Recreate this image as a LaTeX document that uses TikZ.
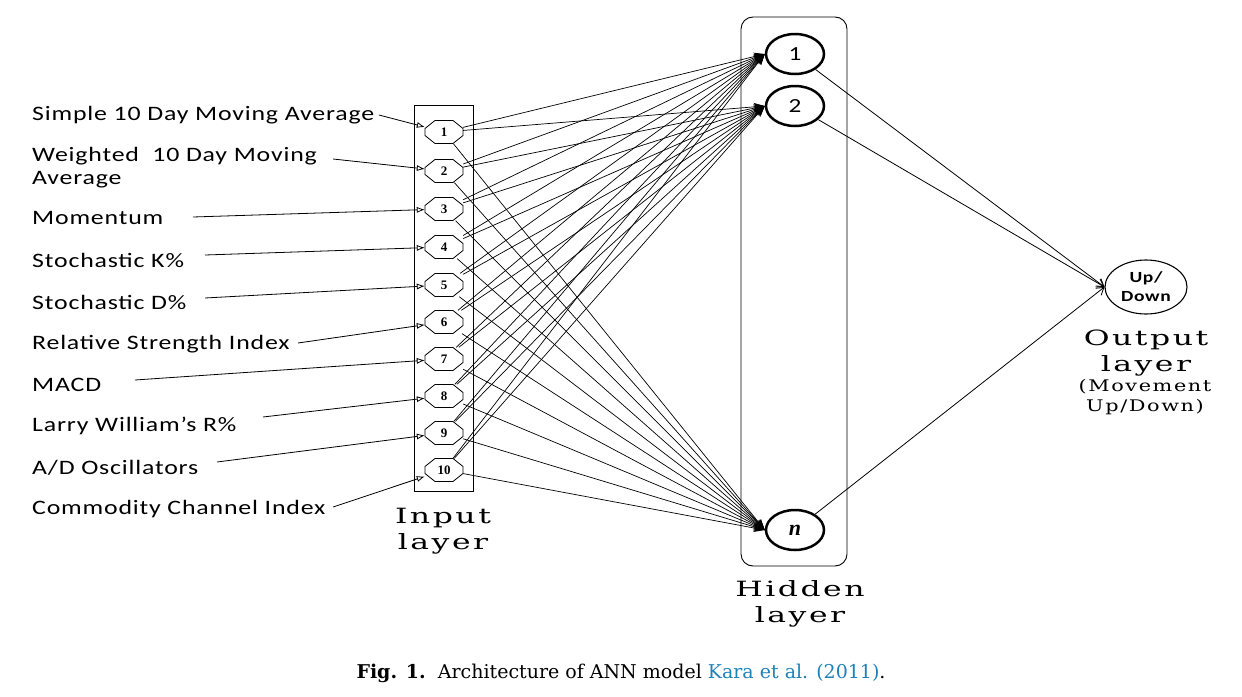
\documentclass[tikz,border=0pt]{standalone}
\usepackage{fontspec}
\setmainfont{DejaVu Serif}
\newfontfamily\lblfont[FakeStretch=1.26,LetterSpace=4]{Carlito}
\newfontfamily\layerfont[FakeStretch=1.5,LetterSpace=12]{DejaVu Serif}
\newfontfamily\smlayerfont[FakeStretch=1.3,LetterSpace=10]{DejaVu Serif}
\newfontfamily\numfont{Liberation Serif}
\usetikzlibrary{arrows.meta,shapes.geometric}
\definecolor{citeblue}{RGB}{30,130,185}
\tikzset{
  lbl/.style={anchor=west,inner sep=0pt,font=\lblfont\fontsize{20.5}{23}\selectfont},
  oct/.style={rectangle,minimum width=38pt,minimum height=23pt,inner sep=0pt,
     font=\numfont\bfseries\fontsize{13}{13}\selectfont},
  octline/.style={line width=0.8pt},
  hid/.style={draw,ellipse,line width=2.5pt,minimum width=58pt,minimum height=40pt,inner sep=0pt},
  inarrow/.style={line width=0.8pt,-{Latex[open,length=8pt,width=6pt]}},
  conn/.style={line width=0.7pt,-{Stealth[length=11pt,width=8pt]}},
  outarrow/.style={line width=0.8pt,-{Straight Barb[length=7pt,width=9pt]}},
  layer/.style={align=center,inner sep=0pt,font=\layerfont\fontsize{21}{26}\selectfont},
}
\begin{document}
\begin{tikzpicture}[x=1pt,y=-1pt]
\useasboundingbox (0,0) rectangle (1242,696);
% boxes
\node (inbox) [draw,line width=0.9pt,minimum width=59pt,minimum height=386pt,inner sep=0pt] at (443.5,298) {};
\node (hbox) [draw,line width=0.9pt,rounded corners=12pt,minimum width=106pt,minimum height=549pt,inner sep=0pt] at (794,291.5) {};
% input octagons
\foreach \i/\y in {1/132,2/171,3/209,4/247,5/285,6/322,7/359,8/396,9/433,10/470}{
  \node (o\i) [oct] at (444,\y) {\raisebox{-1.5pt}{\i}};
  \draw[octline] (o\i.center) ++(-19,-3.5) -- ++(0,7) -- ++(10,8) -- ++(18,0) -- ++(10,-8)
     -- ++(0,-7) -- ++(-10,-8) -- ++(-18,0) -- cycle;
}
% hidden nodes
\node (h1) [hid] at (795,54) {\lblfont\fontsize{20}{20}\selectfont 1};
\node (h2) [hid] at (795,106) {\lblfont\fontsize{20}{20}\selectfont 2};
\node (hn) [hid] at (795,530) {\numfont\bfseries\itshape\fontsize{22}{22}\selectfont n};
% output node
\node (out) [draw,ellipse,line width=1.1pt,minimum width=82pt,minimum height=54pt,inner sep=0pt,align=center,
  font=\lblfont\bfseries\fontsize{15.5}{19}\selectfont] at (1146,287) {Up/\\Down};
% input labels
\node (l1) [lbl] at (32,115) {Simple 10 Day Moving Average};
\node (l2) [lbl,align=left] at (32,167.5) {Weighted\ \ 10 Day Moving\\Average};
\node (l3) [lbl] at (32,218) {Momentum};
\node (l4) [lbl] at (32,260) {Stochastic K\%};
\node (l5) [lbl] at (32,302) {Stochastic D\%};
\node (l6) [lbl] at (32,344) {Relative Strength Index};
\node (l7) [lbl] at (32,385) {MACD};
\node (l8) [lbl] at (32,426) {Larry William’s R\%};
\node (l9) [lbl] at (32,468) {A/D Oscillators};
\node (l10) [lbl] at (32,509) {Commodity Channel Index};
% arrow start points
\coordinate (s1) at (379,115);
\coordinate (s2) at (333,159);
\coordinate (s3) at (193,217);
\coordinate (s4) at (205,255);
\coordinate (s5) at (205,298);
\coordinate (s6) at (298,343);
\coordinate (s7) at (135,380);
\coordinate (s8) at (263,417);
\coordinate (s9) at (217,462);
\coordinate (s10) at (333,507);
\foreach \i in {1,...,10} \draw[inarrow] (s\i) -- (o\i);
% input -> hidden
\foreach \i in {1,...,10}
  \foreach \h in {h1,h2,hn}
    \draw[conn] (o\i) -- (\h.west);
% hidden -> output
\foreach \h in {h1,h2,hn}
  \draw[outarrow] (\h) -- (out.west);
% layer labels
\node (tin) [layer] at (443,531) {Input\\layer};
\node (thid) [layer] at (800,604) {Hidden\\layer};
\node (tout) [layer] at (1146,353) {Output\\layer};
\node (tout2) [align=center,inner sep=0pt,font=\smlayerfont\fontsize{16}{20}\selectfont] at (1145,397) {(Movement\\Up/Down)};
% caption
\node (cap) [inner sep=0pt,font=\fontsize{19}{23}\selectfont] at (621,673)
  {{\bfseries Fig. 1.}\ \ Architecture of ANN model \textcolor{citeblue}{Kara et al. (2011)}.};
\end{tikzpicture}
\end{document}
